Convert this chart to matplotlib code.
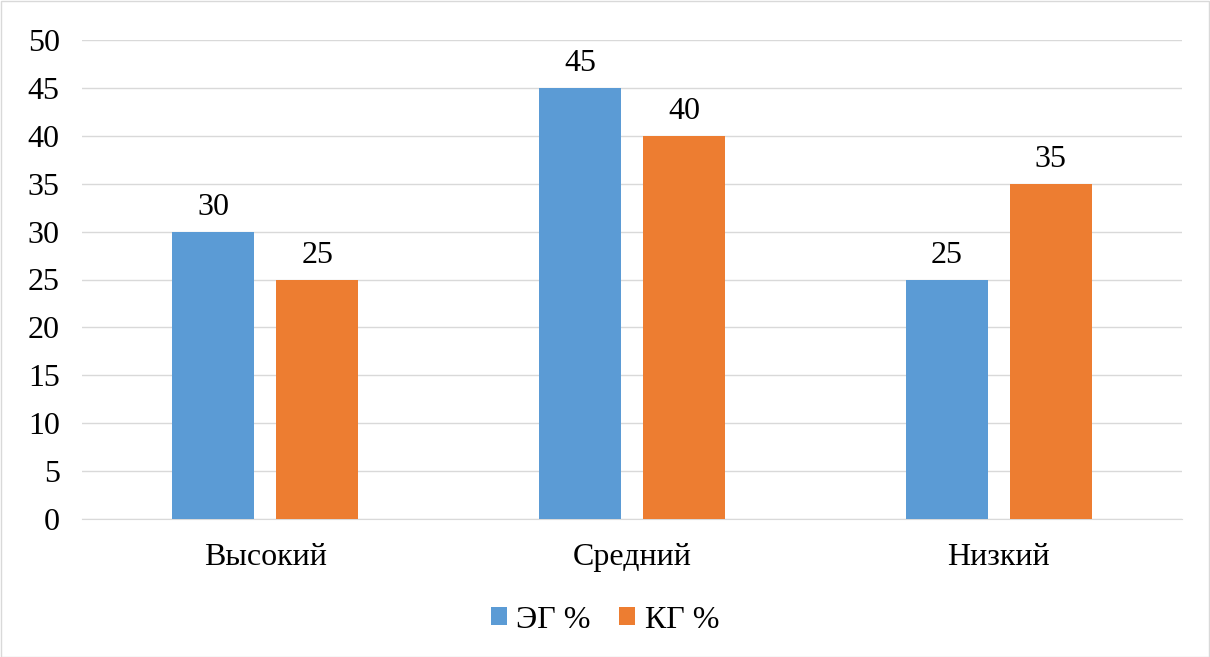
import matplotlib
matplotlib.use("Agg")
import matplotlib.pyplot as plt
import numpy as np
from matplotlib.patches import Rectangle

categories = ["Высокий", "Средний", "Низкий"]
series_names = ["ЭГ %", "КГ %"]
eg_values = [30, 45, 25]
kg_values = [25, 40, 35]
colors = ["#5B9BD5", "#ED7D31"]

plt.rcParams['font.family'] = ['Liberation Serif', 'DejaVu Serif']

W, H = 1210, 657
fig = plt.figure(figsize=(W / 100, H / 100), dpi=100)
ax = fig.add_axes([82 / W, 1 - 519 / H, (1182 - 82) / W, (519 - 40) / H])

x = np.arange(len(categories))
bw = 0.224
off = 0.142
b1 = ax.bar(x - off, eg_values, bw, color=colors[0], label=series_names[0], zorder=3)
b2 = ax.bar(x + off, kg_values, bw, color=colors[1], label=series_names[1], zorder=3)
for bars in (b1, b2):
    ax.bar_label(bars, padding=7, fontsize=23)

ax.set_xlim(-0.5, 2.5)
ax.set_ylim(0, 50)
ax.set_yticks(range(0, 51, 5))
ax.set_xticks(x)
ax.set_xticklabels(categories)
ax.tick_params(axis='both', length=0, labelsize=23)
ax.tick_params(axis='x', pad=17)
ax.tick_params(axis='y', pad=16)
ax.grid(axis='y', color='#D9D9D9', linewidth=1, zorder=0)
for s in ['top', 'right', 'left']:
    ax.spines[s].set_visible(False)
ax.spines['bottom'].set_color('#D9D9D9')

fig.legend(loc='center', bbox_to_anchor=(0.5, 1 - 620 / H), ncol=2, frameon=False,
           fontsize=23, handlelength=0.5, handleheight=0.5, handletextpad=0.3, columnspacing=0.9)

fig.patches.append(Rectangle((0.5 / W, 0.5 / H), 1 - 1.5 / W, 1 - 1.5 / H, transform=fig.transFigure,
                             fill=False, edgecolor='#D9D9D9', linewidth=1))

fig.savefig("out.png", dpi=100)
